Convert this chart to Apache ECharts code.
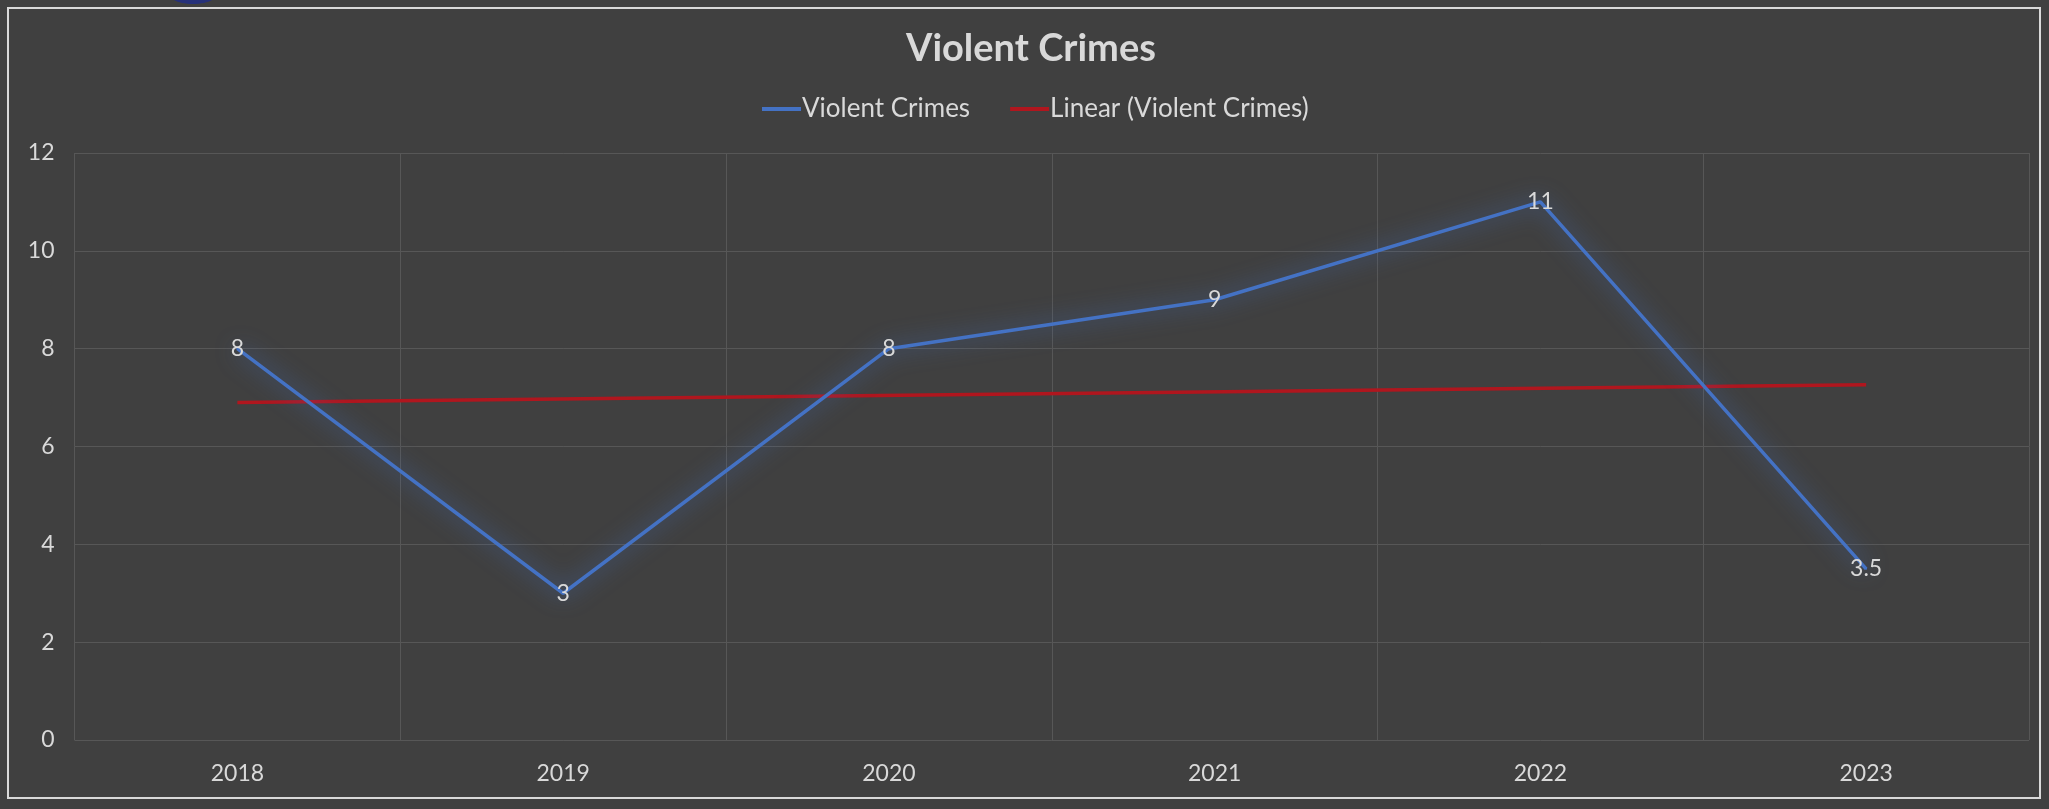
<!DOCTYPE html>
<html>
<head>
<meta charset="utf-8">
<script src="https://cdn.jsdelivr.net/npm/echarts@6/dist/echarts.min.js"></script>
<style>
html,body{margin:0;padding:0;background:#404040;}
#chart{width:2049px;height:809px;}
</style>
</head>
<body>
<div id="chart"></div>
<script>
const titleText = 'Violent Crimes';
const categories = ['2018', '2019', '2020', '2021', '2022', '2023'];
const violentCrimes = [8, 3, 8, 9, 11, 3.5];
// trendline endpoints (first and last category)
const trendLine = [[0, 6.9], [5, 7.26]];
const yTicks = { min: 0, max: 12, interval: 2 };

const FONT = 'Lato, "Open Sans", sans-serif';
const TEXT = '#d9d9d9';
const chart = echarts.init(document.getElementById('chart'));
chart.setOption({
  backgroundColor: '#404040',
  animation: false,
  graphic: [
    { type: 'ellipse', shape: { cx: 193, cy: -6, rx: 24, ry: 10 }, style: { fill: '#26317a' }, z: 0 },
    { type: 'rect', shape: { x: 8, y: 8, width: 2032, height: 790 }, style: { fill: 'none', stroke: '#d9d9d9', lineWidth: 2 }, z: 0 }
  ],
  title: {
    text: titleText,
    left: 901,
    top: 25,
    textStyle: { color: TEXT, fontSize: 38, fontWeight: 'bold', fontFamily: FONT }
  },
  legend: {
    top: 91,
    left: 757,
    itemWidth: 39,
    itemHeight: 4,
    itemGap: 40,
    icon: 'rect',
    textStyle: { color: TEXT, fontSize: 26, fontFamily: FONT, padding: [0, 0, 0, -4] },
    data: ['Violent Crimes', 'Linear (Violent Crimes)']
  },
  grid: { left: 74.5, right: 20, top: 153, bottom: 69, containLabel: false },
  xAxis: {
    type: 'category',
    data: categories,
    boundaryGap: true,
    axisLine: { show: false },
    axisTick: { show: false },
    axisLabel: { color: TEXT, fontSize: 23, fontFamily: FONT, margin: 22 },
    splitLine: { show: true, lineStyle: { color: '#575757', width: 1 } }
  },
  yAxis: {
    type: 'value',
    min: yTicks.min, max: yTicks.max, interval: yTicks.interval,
    axisLine: { show: false },
    axisTick: { show: false },
    axisLabel: { color: TEXT, fontSize: 23, fontFamily: FONT, margin: 20 },
    splitLine: { show: true, lineStyle: { color: '#575757', width: 1 } }
  },
  series: [
    {
      name: 'Violent Crimes',
      type: 'line',
      data: violentCrimes,
      symbol: 'circle',
      symbolSize: 2,
      showSymbol: true,
      showAllSymbol: true,
      itemStyle: { color: '#4472c4' },
      color: '#4472c4',
      lineStyle: { color: '#4472c4', width: 3.5, shadowColor: 'rgba(68,114,196,0.95)', shadowBlur: 22 },
      label: { show: true, position: 'inside', color: TEXT, fontSize: 23, fontFamily: FONT },
      labelLayout: { hideOverlap: false },
      z: 3
    },
    {
      name: 'Linear (Violent Crimes)',
      type: 'line',
      data: trendLine,
      symbol: 'none',
      color: '#b0161e',
      lineStyle: { color: '#b0161e', width: 3.5 },
      z: 2
    }
  ]
});
</script>
</body>
</html>
